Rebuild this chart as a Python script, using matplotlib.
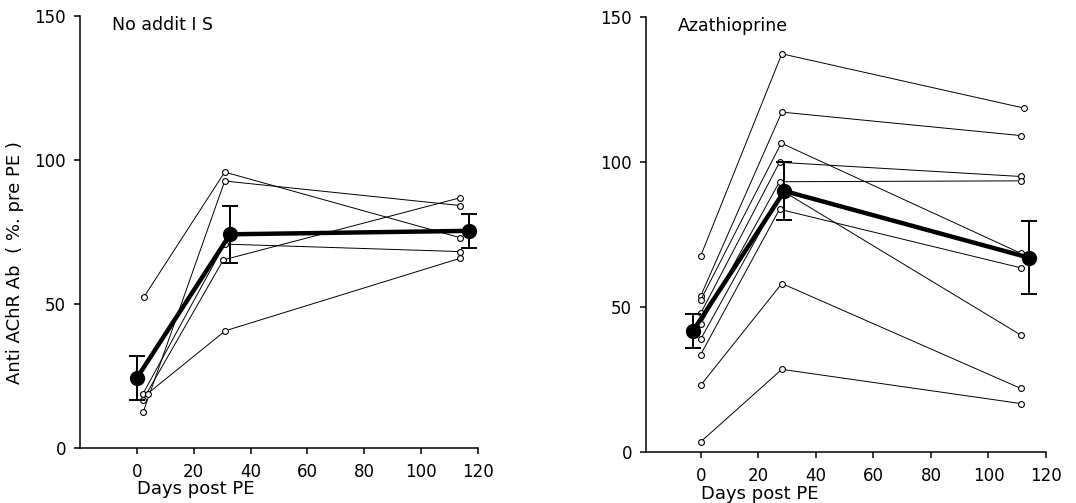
import numpy as np
import matplotlib.pyplot as plt

plt.rcParams.update({
    "font.family": "DejaVu Sans",
    "font.size": 12,
    "axes.linewidth": 1.1,
})

# --- left panel: no additional immunosuppression ---
left_subjects = [
    [52.6, 95.8, 73.0],
    [12.4, 92.7, 84.2],
    [18.9, 70.8, 68.2],
    [16.8, 65.3, 86.9],
    [18.9, 40.7, 65.9],
]
left_subject_days = [
    [2.6, 30.9, 113.8],
    [2.2, 30.9, 113.6],
    [2.2, 30.9, 113.8],
    [2.2, 30.4, 113.8],
    [3.8, 31.1, 113.8],
]
left_mean_days = [0, 32.8, 116.7]
left_mean = [24.3, 74.2, 75.4]
left_err = [7.5, 10.0, 5.8]

# --- right panel: azathioprine ---
right_subjects = [
    [67.6, 137.3, 118.6],
    [53.8, 117.2, 109.1],
    [52.4, 106.5, 68.5],
    [47.8, 99.9, 95.0],
    [44.0, 93.2, 93.5],
    [38.9, 90.0, 40.3],
    [33.6, 83.7, 63.5],
    [23.0, 58.1, 21.9],
    [3.5, 28.5, 16.7],
]
right_subject_days = [
    [0, 28.2, 112.3],
    [0, 28.2, 111.3],
    [0, 28.0, 111.3],
    [0, 27.4, 111.3],
    [0, 27.4, 111.3],
    [0, 28.5, 111.3],
    [0, 27.4, 111.3],
    [0, 28.2, 111.3],
    [0, 28.2, 111.3],
]
right_mean_days = [-2.7, 29.1, 114.1]
right_mean = [41.7, 90.0, 67.0]
right_err = [6.0, 10.1, 12.6]

panels = [
    ("No addit I S", left_subject_days, left_subjects, left_mean_days, left_mean, left_err,
     [80 / 1076, 1 - 448 / 503, 398 / 1076, 432 / 503], (-20, 120)),
    ("Azathioprine", right_subject_days, right_subjects, right_mean_days, right_mean, right_err,
     [646 / 1076, 1 - 452 / 503, 400 / 1076, 435 / 503], (-19, 120)),
]

fig = plt.figure(figsize=(10.76, 5.03), dpi=100)

for i, (title, sdays, subs, mdays, mvals, merr, rect, xlim) in enumerate(panels):
    ax = fig.add_axes(rect)
    for d, v in zip(sdays, subs):
        ax.plot(d, v, color="black", lw=0.7, marker="o", ms=4.2,
                mfc="white", mec="black", mew=0.8, zorder=2)
    ax.errorbar(mdays, mvals, yerr=merr, fmt="none", ecolor="black",
                elinewidth=1.4, capsize=6, capthick=1.4, zorder=3)
    ax.plot(mdays, mvals, color="black", lw=3.2, marker="o", ms=10,
            mfc="black", mec="black", zorder=4)

    ax.set_xlim(*xlim)
    ax.set_ylim(0, 150)
    ax.set_xticks([0, 20, 40, 60, 80, 100, 120])
    ax.set_yticks([0, 50, 100, 150])
    ax.tick_params(direction="out", length=4, width=1.1, labelsize=12)
    ax.tick_params(axis="x", pad=7)
    ax.tick_params(axis="y", pad=6)
    for s in ["top", "right"]:
        ax.spines[s].set_visible(False)

    ax.text(0.08, 1.0, title, transform=ax.transAxes, fontsize=12.5,
            ha="left", va="top")
    ax.text(0, -0.075, "Days post PE", transform=ax.get_xaxis_transform(),
            fontsize=13, ha="left", va="top")

    if i == 0:
        ax.set_ylabel("Anti AChR Ab  ( %. pre PE )", fontsize=13)
        ax.yaxis.set_label_coords(-0.14, 0.43)

fig.savefig("out.png", dpi=100)
